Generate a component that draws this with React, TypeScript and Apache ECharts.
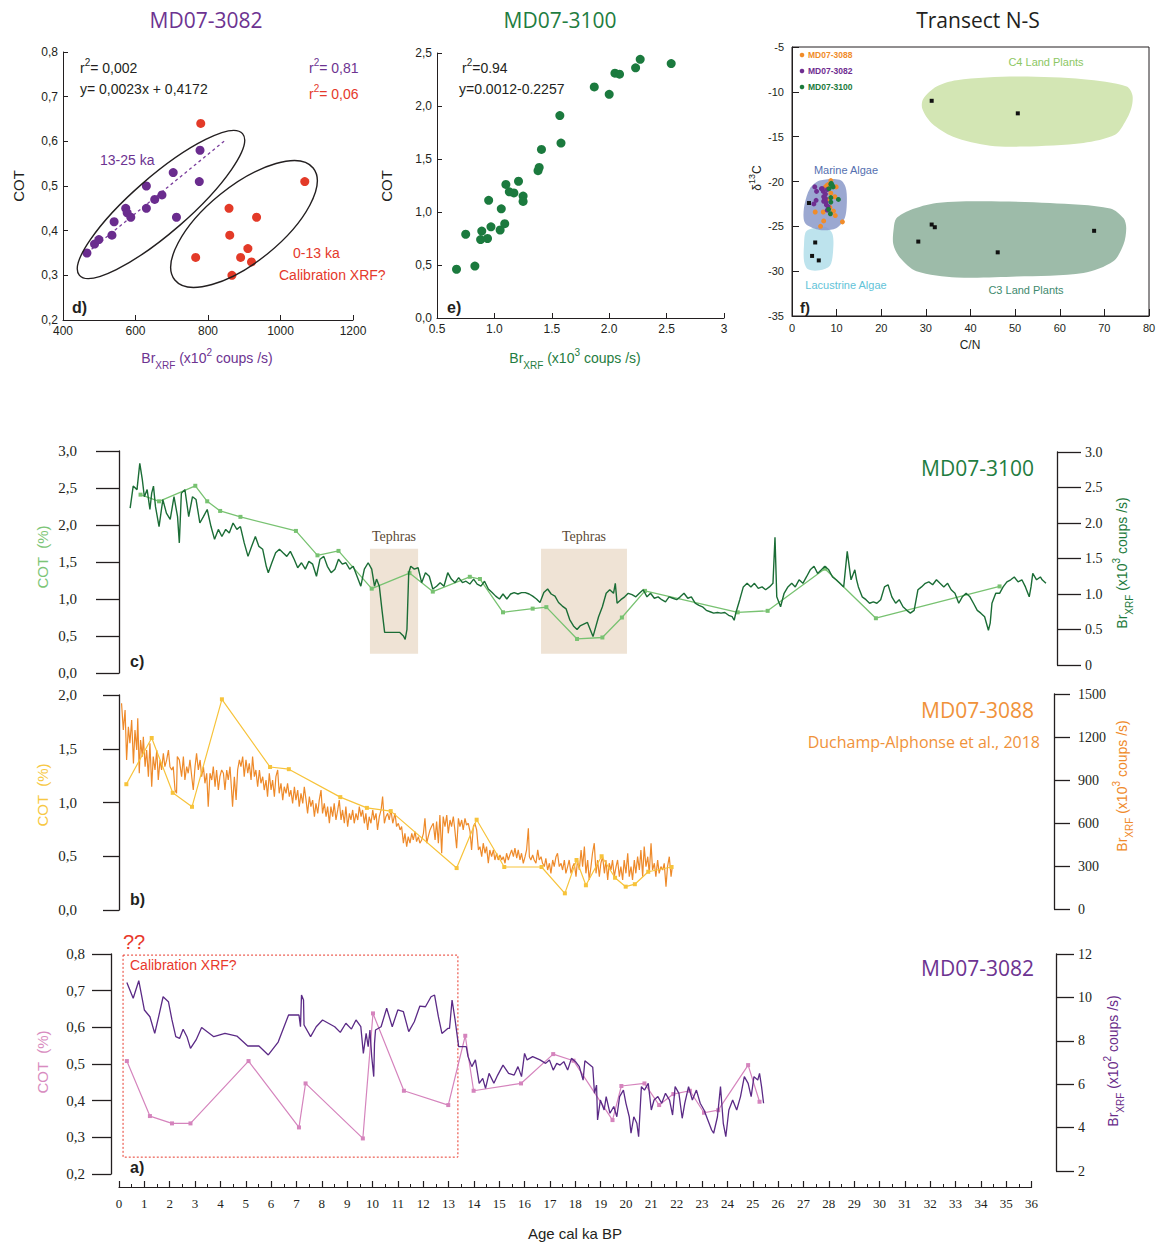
import React, { useEffect, useRef } from "react";
import * as echarts from "echarts";

const SANS = '"Liberation Sans", Arial, sans-serif';
const SERIF = '"Liberation Serif", "Times New Roman", serif';
const TITLE = '"Open Sans", "Noto Sans", sans-serif';
const INK = "#231f20";

// ---------- Panel d : MD07-3082 COT vs Br ----------
const dPurpleBr = [466, 487, 499, 535, 541, 573, 577, 587, 630, 630, 653, 673, 704, 713, 778, 776];
const dPurpleCot = [0.35, 0.37, 0.38, 0.39, 0.42, 0.45, 0.44, 0.43, 0.5, 0.45, 0.47, 0.48, 0.53, 0.43, 0.58, 0.51];
const dRedBr = [780, 766, 858, 860, 866, 890, 910, 920, 934, 1067];
const dRedCot = [0.64, 0.34, 0.45, 0.39, 0.3, 0.34, 0.36, 0.33, 0.43, 0.51];
const dFitBr = [466, 850];
const dFitCot = [0.35, 0.604];

// ---------- Panel e : MD07-3100 COT vs Br ----------
const eBr = [0.67, 0.83, 0.75, 0.88, 0.89, 0.94, 0.95, 0.97, 1.05, 1.06, 1.09, 1.1, 1.13, 1.17, 1.21, 1.25, 1.25, 1.38, 1.39, 1.41, 1.58, 1.57, 1.87, 2.0, 2.05, 2.09, 2.23, 2.27, 2.54];
const eCot = [0.46, 0.49, 0.79, 0.74, 0.82, 0.75, 1.11, 0.86, 0.83, 1.03, 0.89, 1.26, 1.19, 1.18, 1.29, 1.15, 1.1, 1.39, 1.42, 1.59, 1.65, 1.91, 2.18, 2.11, 2.31, 2.3, 2.36, 2.44, 2.4];

// ---------- Panel f : Transect N-S (C/N vs d13C) ----------
const fC4 = [[29.2, -11.9], [29.4, -10.8], [32.4, -9.4], [36.9, -8.7], [50.3, -8.3], [65.3, -8.6], [75.0, -9.4], [76.3, -10.4], [76.0, -11.9], [74.6, -13.4], [72.4, -14.8], [65.3, -15.7], [51.8, -16.1], [44.4, -16.0], [36.1, -15.0], [31.3, -13.5]];
const fC3 = [[22.8, -25.2], [23.4, -24.1], [26.4, -23.2], [32.4, -22.4], [42.9, -22.2], [57.8, -22.4], [71.3, -23.0], [74.3, -24.1], [74.9, -25.2], [74.3, -27.0], [72.0, -28.9], [65.3, -30.2], [50.3, -30.6], [36.9, -30.7], [27.9, -30.0], [24.2, -28.5], [22.7, -27.0]];
const fMarine = [[2.8, -22.6], [4.0, -20.8], [6.2, -19.9], [10.7, -19.8], [12.0, -20.6], [12.3, -22.2], [11.8, -24.1], [9.9, -25.2], [6.2, -25.4], [3.2, -24.8], [2.6, -24.1]];
const fLacustrine = [[3.1, -25.6], [4.7, -25.2], [7.7, -25.1], [9.1, -25.9], [9.2, -27.8], [8.5, -29.4], [6.2, -29.9], [3.6, -29.8], [2.7, -28.9], [2.7, -27.0]];
const fRefCN = [31.3, 50.6, 31.3, 32.0, 28.3, 46.1, 67.7, 3.8, 5.2, 4.5, 6.0];
const fRefD13 = [-11.0, -12.4, -24.8, -25.1, -26.7, -27.9, -25.5, -22.4, -26.8, -28.3, -28.8];
const f3088CN = [8.7, 8.3, 9.9, 7.9, 8.7, 9.6, 5.2, 7.0, 9.3, 9.7, 7.1, 6.4, 11.3, 8.5, 7.9, 7.5];
const f3088D13 = [-19.9, -20.3, -20.6, -20.4, -21.3, -21.7, -23.4, -23.4, -23.3, -23.8, -24.4, -25.0, -24.5, -22.9, -22.0, -20.6];
const f3082CN = [5.1, 5.5, 6.8, 7.0, 7.9, 5.4, 4.9, 7.1, 7.3, 7.6, 7.7, 8.1, 7.1, 6.6, 7.5, 7.9, 7.5];
const f3082D13 = [-20.6, -21.1, -20.8, -21.1, -20.9, -22.1, -22.5, -21.7, -21.9, -22.3, -22.6, -22.8, -22.2, -20.8, -21.4, -23.2, -21.9];
const f3100CN = [8.7, 9.2, 8.3, 8.8, 10.4, 8.7, 8.7, 8.2, 8.6, 9.0];
const f3100D13 = [-20.3, -20.6, -20.8, -20.2, -22.0, -21.8, -22.3, -23.1, -23.6, -20.4];

// ---------- Panel c : MD07-3100 time series ----------
const cBr = [[0.44, 2.21], [0.56, 2.52], [0.71, 2.47], [0.82, 2.84], [0.92, 2.61], [1.0, 2.37], [1.11, 2.47], [1.22, 2.19], [1.29, 2.42], [1.36, 2.52], [1.44, 2.23], [1.58, 1.95], [1.73, 2.33], [1.87, 2.14], [2.02, 2.05], [2.17, 2.37], [2.31, 2.09], [2.38, 1.72], [2.46, 2.42], [2.6, 2.47], [2.75, 2.09], [2.9, 2.37], [3.04, 2.33], [3.19, 2.0], [3.33, 2.09], [3.48, 2.19], [3.63, 1.95], [3.77, 1.77], [3.92, 1.91], [4.06, 1.81], [4.21, 1.91], [4.35, 1.86], [4.5, 2.0], [4.65, 1.91], [4.79, 1.95], [4.94, 1.72], [5.09, 1.53], [5.23, 1.67], [5.38, 1.81], [5.52, 1.67], [5.67, 1.63], [5.81, 1.39], [5.89, 1.3], [6.03, 1.44], [6.18, 1.58], [6.33, 1.63], [6.47, 1.58], [6.62, 1.53], [6.76, 1.6], [6.91, 1.49], [7.05, 1.37], [7.2, 1.44], [7.35, 1.35], [7.49, 1.46], [7.64, 1.42], [7.79, 1.25], [7.93, 1.49], [8.08, 1.53], [8.22, 1.39], [8.37, 1.3], [8.52, 1.35], [8.66, 1.49], [8.81, 1.42], [8.95, 1.44], [9.1, 1.35], [9.24, 1.39], [9.39, 1.25], [9.54, 1.11], [9.68, 1.35], [9.83, 1.44], [9.97, 1.35], [10.08, 1.11], [10.16, 1.21], [10.27, 1.11], [10.37, 0.79], [10.48, 0.46], [10.78, 0.46], [11.07, 0.46], [11.22, 0.41], [11.29, 0.36], [11.36, 0.5], [11.43, 1.3], [11.51, 1.39], [11.65, 1.35], [11.8, 1.37], [11.94, 1.16], [12.09, 1.3], [12.24, 1.25], [12.38, 1.07], [12.53, 1.11], [12.67, 1.16], [12.82, 1.11], [12.97, 1.3], [13.11, 1.21], [13.26, 1.16], [13.4, 1.23], [13.55, 1.16], [13.69, 1.18], [13.84, 1.14], [13.99, 1.21], [14.13, 1.14], [14.28, 1.11], [14.42, 1.18], [14.57, 1.07], [14.72, 1.02], [14.86, 0.97], [15.01, 0.93], [15.15, 1.0], [15.3, 0.93], [15.45, 1.0], [15.59, 1.02], [15.74, 1.0], [15.88, 1.02], [16.03, 1.02], [16.18, 1.0], [16.32, 0.97], [16.47, 0.93], [16.61, 0.88], [16.76, 1.02], [16.91, 1.07], [17.05, 1.0], [17.2, 0.97], [17.34, 0.88], [17.49, 0.83], [17.64, 0.79], [17.78, 0.64], [17.93, 0.55], [18.07, 0.5], [18.19, 0.55], [18.48, 0.6], [18.7, 0.4], [18.92, 0.68], [19.07, 0.82], [19.22, 1.01], [19.36, 1.06], [19.51, 1.01], [19.58, 1.15], [19.65, 0.87], [19.8, 0.92], [19.95, 0.96], [20.09, 1.01], [20.24, 0.99], [20.39, 0.96], [20.53, 1.01], [20.68, 1.06], [20.83, 0.96], [20.97, 1.01], [21.12, 0.94], [21.27, 0.96], [21.41, 0.92], [21.56, 0.89], [21.7, 0.96], [21.85, 0.94], [22.0, 0.92], [22.14, 0.96], [22.29, 1.01], [22.44, 0.94], [22.58, 0.96], [22.73, 0.87], [22.88, 0.84], [23.02, 0.82], [23.17, 0.77], [23.32, 0.75], [23.46, 0.73], [23.61, 0.74], [23.75, 0.73], [23.9, 0.74], [24.05, 0.7], [24.19, 0.68], [24.27, 0.63], [24.34, 0.74], [24.49, 0.92], [24.63, 1.1], [24.78, 1.15], [24.93, 1.1], [25.07, 1.15], [25.22, 1.08], [25.37, 1.1], [25.51, 1.06], [25.66, 1.1], [25.8, 1.15], [25.88, 1.8], [25.95, 0.96], [26.1, 0.82], [26.24, 1.01], [26.39, 1.1], [26.54, 1.15], [26.68, 1.1], [26.83, 1.2], [26.98, 1.15], [27.12, 1.24], [27.27, 1.34], [27.42, 1.39], [27.56, 1.29], [27.71, 1.34], [27.85, 1.39], [28.0, 1.34], [28.15, 1.24], [28.29, 1.2], [28.44, 1.15], [28.59, 1.1], [28.73, 1.6], [28.88, 1.2], [29.03, 1.34], [29.1, 1.2], [29.17, 1.1], [29.32, 0.96], [29.47, 0.92], [29.61, 0.87], [29.76, 0.89], [29.9, 0.87], [30.05, 0.92], [30.2, 1.1], [30.34, 1.13], [30.49, 0.96], [30.64, 0.87], [30.78, 0.92], [30.93, 0.82], [31.08, 0.77], [31.22, 0.73], [31.37, 0.77], [31.52, 1.06], [31.66, 1.1], [31.81, 1.15], [31.95, 1.17], [32.1, 1.13], [32.25, 1.2], [32.39, 1.15], [32.54, 1.1], [32.69, 1.15], [32.83, 1.06], [32.98, 1.01], [33.13, 0.87], [33.27, 0.96], [33.42, 1.01], [33.57, 0.96], [33.71, 0.87], [33.86, 0.77], [34.0, 0.73], [34.15, 0.68], [34.3, 0.49], [34.37, 0.59], [34.44, 0.87], [34.59, 1.01], [34.74, 1.01], [34.88, 1.1], [35.03, 1.17], [35.18, 1.2], [35.32, 1.24], [35.47, 1.17], [35.62, 1.2], [35.76, 1.1], [35.91, 0.96], [35.98, 1.1], [36.05, 1.29], [36.2, 1.2], [36.35, 1.24], [36.42, 1.2], [36.57, 1.15]];
const cCot = [[0.85, 2.41], [1.58, 2.32], [3.01, 2.53], [3.48, 2.32], [3.99, 2.19], [4.79, 2.11], [6.98, 1.92], [7.83, 1.59], [8.66, 1.65], [9.97, 1.14], [11.46, 1.35], [12.38, 1.1], [13.84, 1.3], [14.24, 1.27], [15.15, 0.82], [16.32, 0.87], [16.86, 0.89], [18.07, 0.46], [19.07, 0.48], [19.84, 0.75], [20.75, 1.11], [24.41, 0.82], [25.59, 0.84], [27.85, 1.41], [29.86, 0.74], [34.74, 1.17]];
const tephraStart = [9.9, 16.65];
const tephraEnd = [11.8, 20.04];
const tephraCot = [0.26, 1.68];

// ---------- Panel b : MD07-3088 time series ----------
const bBr = [[0.1, 1435], [0.17, 1249], [0.24, 1388], [0.3, 1040], [0.37, 1272], [0.43, 1156], [0.5, 1319], [0.57, 1016], [0.63, 1249], [0.7, 1109], [0.74, 1330], [0.8, 947], [0.85, 1179], [0.92, 1063], [0.96, 1202], [1.03, 993], [1.09, 1109], [1.16, 923], [1.22, 1156], [1.29, 853], [1.35, 1063], [1.42, 970], [1.49, 1109], [1.55, 900], [1.62, 1040], [1.68, 970], [1.75, 1086], [1.81, 993], [1.88, 1040], [1.95, 1109], [2.01, 993], [2.08, 970], [2.14, 993], [2.21, 830], [2.27, 807], [2.3, 1063], [2.38, 1040], [2.47, 923], [2.54, 1063], [2.6, 900], [2.67, 993], [2.73, 947], [2.8, 1040], [2.87, 923], [2.93, 830], [3.0, 993], [3.06, 1086], [3.13, 970], [3.2, 1040], [3.26, 923], [3.33, 993], [3.39, 877], [3.46, 947], [3.52, 714], [3.59, 947], [3.66, 900], [3.72, 993], [3.79, 853], [3.85, 970], [3.92, 830], [3.98, 923], [4.05, 970], [4.12, 947], [4.18, 830], [4.25, 970], [4.31, 900], [4.38, 993], [4.44, 830], [4.48, 714], [4.55, 923], [4.62, 760], [4.68, 970], [4.75, 1040], [4.81, 993], [4.88, 1063], [4.94, 923], [5.01, 1040], [5.08, 947], [5.14, 1016], [5.21, 900], [5.27, 1063], [5.34, 923], [5.4, 970], [5.47, 853], [5.54, 970], [5.6, 877], [5.67, 923], [5.73, 830], [5.8, 900], [5.86, 784], [5.93, 947], [6.0, 830], [6.06, 900], [6.13, 784], [6.19, 923], [6.26, 970], [6.32, 807], [6.39, 877], [6.46, 760], [6.52, 853], [6.59, 807], [6.65, 877], [6.72, 784], [6.78, 830], [6.85, 737], [6.92, 853], [6.98, 760], [7.05, 830], [7.11, 714], [7.18, 807], [7.25, 737], [7.31, 853], [7.38, 760], [7.44, 667], [7.51, 784], [7.57, 714], [7.64, 760], [7.71, 644], [7.77, 737], [7.84, 667], [7.9, 760], [7.97, 830], [8.03, 667], [8.1, 737], [8.17, 644], [8.23, 714], [8.3, 598], [8.36, 714], [8.43, 644], [8.49, 737], [8.56, 621], [8.63, 691], [8.69, 760], [8.76, 621], [8.82, 691], [8.89, 598], [8.95, 714], [9.02, 574], [9.09, 667], [9.15, 621], [9.22, 691], [9.28, 598], [9.35, 667], [9.42, 621], [9.48, 714], [9.55, 644], [9.61, 691], [9.68, 598], [9.74, 667], [9.81, 551], [9.87, 644], [9.94, 598], [10.01, 691], [10.07, 621], [10.14, 667], [10.2, 551], [10.27, 644], [10.34, 691], [10.4, 784], [10.47, 598], [10.53, 644], [10.6, 667], [10.66, 621], [10.73, 691], [10.8, 598], [10.89, 668], [10.95, 575], [11.02, 598], [11.09, 552], [11.15, 575], [11.22, 459], [11.28, 528], [11.35, 435], [11.41, 505], [11.48, 459], [11.55, 528], [11.61, 482], [11.68, 540], [11.74, 470], [11.81, 505], [11.87, 459], [11.94, 482], [12.01, 528], [12.07, 633], [12.14, 459], [12.2, 505], [12.27, 552], [12.33, 575], [12.4, 598], [12.47, 482], [12.53, 610], [12.6, 459], [12.66, 656], [12.73, 389], [12.79, 645], [12.86, 575], [12.93, 656], [12.99, 528], [13.06, 621], [13.12, 575], [13.19, 645], [13.25, 552], [13.32, 424], [13.39, 633], [13.45, 575], [13.52, 621], [13.58, 552], [13.65, 633], [13.71, 586], [13.78, 598], [13.85, 540], [13.91, 412], [13.98, 575], [14.04, 598], [14.11, 552], [14.18, 412], [14.24, 435], [14.31, 365], [14.37, 459], [14.44, 389], [14.5, 435], [14.57, 319], [14.63, 412], [14.7, 365], [14.77, 412], [14.83, 342], [14.9, 389], [14.96, 342], [15.03, 377], [15.1, 342], [15.16, 365], [15.23, 319], [15.29, 389], [15.36, 342], [15.42, 377], [15.49, 412], [15.56, 365], [15.62, 424], [15.69, 354], [15.75, 412], [15.82, 342], [15.88, 389], [15.95, 319], [16.02, 365], [16.08, 412], [16.15, 563], [16.19, 365], [16.25, 342], [16.32, 377], [16.38, 342], [16.45, 319], [16.52, 412], [16.58, 342], [16.65, 365], [16.71, 319], [16.78, 296], [16.84, 354], [16.91, 272], [16.98, 319], [17.04, 249], [17.11, 342], [17.17, 296], [17.24, 365], [17.3, 389], [17.37, 296], [17.44, 319], [17.5, 272], [17.57, 342], [17.63, 249], [17.7, 296], [17.76, 342], [17.83, 249], [17.9, 296], [17.96, 319], [18.03, 226], [18.09, 342], [18.16, 272], [18.23, 412], [18.29, 296], [18.36, 435], [18.42, 249], [18.49, 342], [18.55, 203], [18.62, 296], [18.68, 389], [18.75, 459], [18.82, 249], [18.88, 342], [18.95, 226], [19.01, 319], [19.08, 365], [19.15, 249], [19.21, 342], [19.28, 203], [19.34, 319], [19.41, 272], [19.47, 342], [19.54, 226], [19.61, 296], [19.67, 342], [19.74, 226], [19.8, 296], [19.87, 203], [19.93, 342], [20.0, 249], [20.07, 389], [20.13, 226], [20.2, 296], [20.26, 203], [20.33, 342], [20.39, 249], [20.46, 365], [20.53, 272], [20.59, 412], [20.66, 226], [20.72, 435], [20.79, 296], [20.86, 365], [20.92, 249], [20.99, 459], [21.05, 272], [21.12, 319], [21.18, 226], [21.25, 342], [21.31, 249], [21.38, 296], [21.45, 272], [21.51, 319], [21.58, 156], [21.64, 296], [21.71, 365], [21.78, 226], [21.83, 296]];
const bCot = [[0.29, 1.17], [1.29, 1.6], [2.12, 1.09], [2.88, 0.96], [4.06, 1.96], [5.96, 1.33], [6.7, 1.31], [8.73, 1.05], [9.78, 0.95], [10.72, 0.92], [13.32, 0.39], [14.11, 0.84], [15.2, 0.4], [16.67, 0.4], [17.59, 0.155], [18.05, 0.465], [18.42, 0.23], [19.04, 0.5], [19.57, 0.3], [19.99, 0.217], [20.35, 0.24], [20.88, 0.356], [21.8, 0.4]];

// ---------- Panel a : MD07-3082 time series ----------
const aBr = [[0.31, 10.69], [0.56, 9.96], [0.78, 10.77], [1.0, 9.42], [1.22, 9.11], [1.41, 8.34], [1.58, 9.19], [1.74, 10.03], [1.95, 9.8], [2.09, 8.96], [2.24, 8.19], [2.39, 8.11], [2.53, 8.53], [2.68, 8.19], [2.82, 7.65], [3.04, 8.04], [3.26, 8.61], [3.74, 8.19], [4.18, 8.34], [4.65, 8.22], [5.08, 7.76], [5.52, 7.76], [5.89, 7.35], [6.28, 7.94], [6.69, 9.19], [7.1, 9.19], [7.16, 8.65], [7.2, 10.11], [7.28, 9.88], [7.3, 8.73], [7.56, 8.19], [7.78, 8.65], [8.03, 8.96], [8.51, 8.65], [8.73, 8.39], [8.95, 8.81], [9.17, 8.54], [9.35, 8.96], [9.54, 8.65], [9.64, 7.42], [9.75, 8.34], [9.83, 7.73], [9.9, 8.5], [9.97, 7.27], [10.05, 6.35], [10.08, 7.88], [10.12, 8.5], [10.34, 8.65], [10.56, 9.5], [10.78, 8.65], [11.0, 9.42], [11.22, 9.34], [11.43, 8.42], [11.65, 8.88], [11.87, 9.6], [12.09, 9.57], [12.31, 10.03], [12.45, 10.11], [12.6, 9.11], [12.74, 8.34], [12.97, 8.57], [13.04, 8.57], [13.14, 9.88], [13.26, 8.96], [13.4, 7.73], [13.7, 7.73], [13.77, 7.27], [13.92, 6.81], [14.06, 7.12], [14.21, 6.04], [14.35, 6.27], [14.46, 5.81], [14.6, 6.5], [14.79, 6.04], [14.94, 6.42], [15.15, 6.88], [15.37, 6.5], [15.59, 6.42], [15.74, 6.81], [15.88, 6.35], [16.0, 7.42], [16.1, 7.12], [16.32, 7.27], [16.61, 7.12], [16.83, 6.96], [16.98, 7.12], [17.13, 6.65], [17.27, 6.96], [17.4, 6.88], [17.55, 7.04], [17.7, 6.65], [17.85, 7.19], [18.01, 7.04], [18.16, 6.81], [18.31, 6.19], [18.38, 7.08], [18.69, 6.78], [18.76, 5.58], [18.84, 5.96], [18.88, 4.35], [18.99, 5.27], [19.14, 4.81], [19.22, 5.43], [19.37, 4.66], [19.52, 4.97], [19.64, 4.5], [19.75, 5.43], [19.9, 5.73], [20.0, 5.12], [20.13, 4.5], [20.2, 3.74], [20.31, 4.5], [20.43, 4.2], [20.5, 3.58], [20.61, 5.89], [20.73, 5.73], [20.88, 6.04], [21.0, 4.81], [21.11, 5.27], [21.26, 5.43], [21.41, 5.12], [21.56, 5.58], [21.72, 5.27], [21.84, 4.58], [21.94, 5.89], [22.09, 5.58], [22.22, 4.43], [22.32, 5.12], [22.47, 5.89], [22.62, 5.27], [22.78, 5.73], [22.93, 5.12], [23.08, 4.81], [23.23, 4.35], [23.38, 3.89], [23.46, 3.74], [23.61, 4.5], [23.73, 5.89], [23.84, 4.2], [23.94, 3.58], [24.06, 4.81], [24.21, 5.27], [24.37, 4.81], [24.52, 5.43], [24.67, 6.35], [24.82, 6.04], [24.94, 5.43], [25.05, 6.35], [25.2, 6.19], [25.27, 6.5], [25.35, 5.89], [25.43, 5.12]];
const aCot = [[0.31, 0.508], [1.22, 0.358], [2.09, 0.338], [2.82, 0.338], [5.11, 0.508], [7.1, 0.327], [7.36, 0.447], [9.62, 0.297], [10.02, 0.638], [11.24, 0.427], [12.99, 0.388], [13.66, 0.577], [13.99, 0.427], [15.86, 0.447], [17.13, 0.527], [17.93, 0.509], [19.47, 0.347], [19.82, 0.44], [20.73, 0.447], [21.31, 0.388], [21.87, 0.418], [22.52, 0.427], [23.08, 0.367], [23.64, 0.374], [24.82, 0.497], [25.27, 0.397]];
const calibAge = [0.16, 13.37];
const calibCot = [0.246, 0.797];

// ---------- shared age axis ----------
const AGE_MAX = 36;
const AGE_DATA_MAX = 36.69;

// ---------- helpers ----------
let measureCtx: any = null;
function measure(text: string, size: number, family: string, weight = "normal") {
  if (!measureCtx) measureCtx = document.createElement("canvas").getContext("2d");
  measureCtx.font = `${weight} ${size}px ${family}`;
  return measureCtx.measureText(text).width;
}

function txt(x: number, y: number, text: string, o: any = {}) {
  const align = o.align || "left";
  return {
    type: "text",
    x,
    y,
    z: 100,
    rotation: o.rotation || 0,
    style: {
      text,
      fill: o.color || INK,
      fontSize: o.size || 14,
      fontFamily: o.family || SANS,
      fontWeight: o.weight || "normal",
      align,
      textAlign: align,
      verticalAlign: "middle",
      textVerticalAlign: "middle",
    },
  };
}

function seqText(x: number, y: number, parts: any[], o: any = {}) {
  const widths = parts.map((p) => measure(p.text, p.size, p.family || SANS, p.weight || "normal"));
  const total = widths.reduce((a, b) => a + b, 0);
  let cur = o.align === "center" ? -total / 2 : o.align === "right" ? -total : 0;
  const children = parts.map((p, i) => {
    const el = txt(cur, p.dy || 0, p.text, { color: p.color, size: p.size, family: p.family, weight: p.weight });
    cur += widths[i];
    return el;
  });
  return { type: "group", x, y, rotation: o.rotation || 0, z: 100, children };
}

function brLabel(x: number, y: number, color: string, exp: string, rotation = 0) {
  return seqText(
    x,
    y,
    [
      { text: "Br", size: 14, color },
      { text: "XRF", size: 10, color, dy: 7 },
      { text: " (x10", size: 14, color },
      { text: exp, size: 10, color, dy: -6 },
      { text: " coups /s)", size: 14, color },
    ],
    { align: "center", rotation }
  );
}

function r2(x: number, y: number, rest: string, color: string) {
  return seqText(x, y, [
    { text: "r", size: 14, color },
    { text: "2", size: 10, color, dy: -6 },
    { text: rest, size: 14, color },
  ]);
}

const comma1 = (v: number) => v.toFixed(1).replace(".", ",");

function scatterAxis(gridIndex: number, min: number, max: number, interval: number, fmt: any, extra: any = {}) {
  return {
    type: "value",
    gridIndex,
    min,
    max,
    interval,
    axisLine: { show: true, onZero: false, lineStyle: { color: INK, width: 1 } },
    axisTick: { show: true, inside: true, length: extra.tick || 5, lineStyle: { color: INK } },
    axisLabel: { show: true, color: INK, fontSize: extra.fontSize || 12, fontFamily: SANS, margin: extra.margin || 5, formatter: fmt },
    splitLine: { show: false },
  };
}

function tsY(gridIndex: number, position: string, min: number, max: number, interval: number, offset: number, tickLen: number, margin: number, fmt: any, fontSize: number) {
  return {
    type: "value",
    gridIndex,
    position,
    min,
    max,
    interval,
    offset,
    axisLine: { show: true, onZero: false, lineStyle: { color: INK, width: 1.3 } },
    axisTick: { show: true, inside: false, length: tickLen, lineStyle: { color: INK, width: 1.3 } },
    axisLabel: { show: true, margin, color: INK, fontFamily: SERIF, fontSize, formatter: fmt },
    splitLine: { show: false },
  };
}

function hiddenAgeX(gridIndex: number) {
  return { type: "value", gridIndex, min: 0, max: AGE_DATA_MAX, show: false };
}

function polySeries(points: number[][], fill: string) {
  return {
    type: "custom",
    xAxisIndex: 2,
    yAxisIndex: 2,
    silent: true,
    z: 1,
    data: [points[0]],
    renderItem: (_p: any, api: any) => ({
      type: "polygon",
      shape: { points: points.map((pt) => api.coord(pt)), smooth: 0.3 },
      style: { fill, stroke: "none" },
    }),
  };
}

const zip = (xs: number[], ys: number[]) => xs.map((x, i) => [x, ys[i]]);

function buildOption() {
  const PURPLE_T = "#6d3391";
  const GREEN_T = "#1f7d41";
  const ORANGE_T = "#f0923a";

  const grids = [
    { left: 63, top: 52, width: 290, height: 268 }, // d
    { left: 437, top: 53, width: 287, height: 265 }, // e
    { left: 792, top: 47, width: 357, height: 269, show: true, borderColor: INK, borderWidth: 1, backgroundColor: "transparent" }, // f
    { left: 119, top: 451, width: 930, height: 222 }, // c COT
    { left: 119, top: 452, width: 930, height: 213 }, // c Br
    { left: 119, top: 695, width: 930, height: 215 }, // b COT
    { left: 119, top: 694, width: 930, height: 215 }, // b Br
    { left: 119, top: 954, width: 930, height: 220 }, // a COT
    { left: 119, top: 954, width: 930, height: 217 }, // a Br
    { left: 119, top: 1100, width: 912.6, height: 87 }, // age axis
  ];

  const xAxes = [
    scatterAxis(0, 400, 1200, 200, (v: number) => String(v)),
    scatterAxis(1, 0.5, 3, 0.5, (v: number) => (v === 3 ? "3" : v.toFixed(1))),
    scatterAxis(2, 0, 80, 10, (v: number) => String(v), { tick: 7, fontSize: 11, margin: 6 }),
    hiddenAgeX(3),
    hiddenAgeX(4),
    hiddenAgeX(5),
    hiddenAgeX(6),
    hiddenAgeX(7),
    hiddenAgeX(8),
    {
      type: "value",
      gridIndex: 9,
      min: 0,
      max: AGE_MAX,
      interval: 1,
      axisLine: { show: true, onZero: false, lineStyle: { color: INK, width: 1.2 } },
      axisTick: { show: true, inside: true, length: 6, lineStyle: { color: INK, width: 1.2 } },
      minorTick: { show: true, splitNumber: 2, length: 3, lineStyle: { color: INK, width: 1 } },
      axisLabel: { show: true, color: INK, fontFamily: SERIF, fontSize: 13, margin: 10, formatter: (v: number) => String(v) },
      splitLine: { show: false },
      minorSplitLine: { show: false },
    },
  ];

  const yAxes = [
    scatterAxis(0, 0.2, 0.8, 0.1, comma1),
    scatterAxis(1, 0, 2.5, 0.5, comma1),
    scatterAxis(2, -35, -5, 5, (v: number) => String(v), { tick: 7, fontSize: 11, margin: 8 }),
    tsY(3, "left", 0, 3, 0.5, 0, 23, 42, comma1, 15),
    tsY(4, "right", 0, 3, 0.5, 8, 24, 28, (v: number) => (v === 0 ? "0" : v.toFixed(1)), 14),
    tsY(5, "left", 0, 2, 0.5, 0, 16, 42, comma1, 15),
    tsY(6, "right", 0, 1500, 300, 5, 16, 24, (v: number) => String(v), 14),
    tsY(7, "left", 0.2, 0.8, 0.1, 8, 19, 26, comma1, 15),
    tsY(8, "right", 2, 12, 2, 7, 18, 22, (v: number) => String(v), 14),
    { type: "value", gridIndex: 9, min: 0, max: 1, show: false },
  ];

  const series: any[] = [
    // d
    { type: "scatter", xAxisIndex: 0, yAxisIndex: 0, symbolSize: 9, itemStyle: { color: "#6a2c8e", opacity: 1 }, data: zip(dPurpleBr, dPurpleCot), z: 3 },
    { type: "scatter", xAxisIndex: 0, yAxisIndex: 0, symbolSize: 9, itemStyle: { color: "#e33a28", opacity: 1 }, data: zip(dRedBr, dRedCot), z: 3 },
    { type: "line", xAxisIndex: 0, yAxisIndex: 0, showSymbol: false, lineStyle: { color: "#7a3d9c", width: 1.3, type: [3, 3] }, data: zip(dFitBr, dFitCot), z: 2 },
    // e
    { type: "scatter", xAxisIndex: 1, yAxisIndex: 1, symbolSize: 9, itemStyle: { color: "#1b7a3e", opacity: 1 }, data: zip(eBr, eCot) },
    // f polygons
    polySeries(fC4, "#d3e6b4"),
    polySeries(fC3, "#9dbba9"),
    polySeries(fLacustrine, "#bde3ed"),
    polySeries(fMarine, "rgba(138,153,201,0.85)"),
    { type: "scatter", xAxisIndex: 2, yAxisIndex: 2, symbol: "rect", symbolSize: 4, itemStyle: { color: "#111", opacity: 1 }, data: zip(fRefCN, fRefD13), z: 5 },
    { type: "scatter", xAxisIndex: 2, yAxisIndex: 2, symbolSize: 5, itemStyle: { color: "#f08c2a", opacity: 1 }, data: zip(f3088CN, f3088D13), z: 5 },
    { type: "scatter", xAxisIndex: 2, yAxisIndex: 2, symbolSize: 5, itemStyle: { color: "#6f2e91", opacity: 1 }, data: zip(f3082CN, f3082D13), z: 5 },
    { type: "scatter", xAxisIndex: 2, yAxisIndex: 2, symbolSize: 5, itemStyle: { color: "#1b7a3c", opacity: 1 }, data: zip(f3100CN, f3100D13), z: 6 },
    // c
    {
      type: "line",
      xAxisIndex: 3,
      yAxisIndex: 3,
      symbol: "rect",
      symbolSize: 4,
      showSymbol: true,
      lineStyle: { color: "#78c271", width: 1.3 },
      itemStyle: { color: "#78c271" },
      data: cCot,
      z: 3,
      markArea: {
        silent: true,
        itemStyle: { color: "#efe3d5" },
        label: { show: true, position: "top", distance: 5, color: "#5b4a37", fontFamily: SERIF, fontSize: 14, formatter: "Tephras" },
        data: tephraStart.map((s, i) => [
          { xAxis: s, yAxis: tephraCot[1] },
          { xAxis: tephraEnd[i], yAxis: tephraCot[0] },
        ]),
      },
    },
    { type: "line", xAxisIndex: 4, yAxisIndex: 4, showSymbol: false, lineStyle: { color: "#1b6d36", width: 1.4 }, data: cBr, z: 4 },
    // b
    { type: "line", xAxisIndex: 6, yAxisIndex: 6, showSymbol: false, lineStyle: { color: "#ee8a2a", width: 1.2 }, data: bBr, z: 3 },
    {
      type: "line",
      xAxisIndex: 5,
      yAxisIndex: 5,
      symbol: "rect",
      symbolSize: 4,
      showSymbol: true,
      lineStyle: { color: "#f7c33b", width: 1.2 },
      itemStyle: { color: "#f7c33b" },
      data: bCot,
      z: 4,
    },
    // a
    {
      type: "line",
      xAxisIndex: 7,
      yAxisIndex: 7,
      symbol: "rect",
      symbolSize: 4,
      showSymbol: true,
      lineStyle: { color: "#d584bd", width: 1.2 },
      itemStyle: { color: "#d584bd" },
      data: aCot,
      z: 3,
      markArea: {
        silent: true,
        itemStyle: { color: "rgba(0,0,0,0)", borderColor: "#e8392c", borderWidth: 1, borderType: [2, 2] },
        label: { show: false },
        data: [[{ xAxis: calibAge[0], yAxis: calibCot[1] }, { xAxis: calibAge[1], yAxis: calibCot[0] }]],
      },
    },
    { type: "line", xAxisIndex: 8, yAxisIndex: 8, showSymbol: false, lineStyle: { color: "#5b2a86", width: 1.3 }, data: aBr, z: 4 },
  ];

  const R90 = Math.PI / 2;
  const g: any[] = [
    // titles
    txt(206, 20, "MD07-3082", { color: PURPLE_T, size: 21, family: TITLE, align: "center" }),
    txt(560, 20, "MD07-3100", { color: GREEN_T, size: 21, family: TITLE, align: "center" }),
    txt(978, 20, "Transect N-S", { color: INK, size: 21, family: TITLE, align: "center" }),
    // d annotations
    r2(80, 68, "= 0,002", INK),
    txt(80, 89, "y= 0,0023x + 0,4172", { size: 14 }),
    r2(309, 68, "= 0,81", PURPLE_T),
    r2(309, 94, "= 0,06", "#e5392b"),
    txt(100, 160, "13-25 ka", { color: PURPLE_T, size: 14 }),
    txt(293, 253, "0-13 ka", { color: "#e5392b", size: 14 }),
    txt(279, 275, "Calibration XRF?", { color: "#e5392b", size: 14 }),
    txt(72, 307, "d)", { size: 16, weight: "bold" }),
    { type: "ellipse", x: 161, y: 204.5, rotation: (41 * Math.PI) / 180, z: 100, shape: { cx: 0, cy: 0, rx: 108, ry: 28 }, style: { fill: "none", stroke: INK, lineWidth: 1.4 } },
    { type: "ellipse", x: 244, y: 224, rotation: (39 * Math.PI) / 180, z: 100, shape: { cx: 0, cy: 0, rx: 89, ry: 38 }, style: { fill: "none", stroke: INK, lineWidth: 1.4 } },
    txt(18, 186, "COT", { size: 15, align: "center", rotation: R90 }),
    brLabel(207, 358, PURPLE_T, "2"),
    // e annotations
    r2(462, 68, "=0.94", INK),
    txt(459, 89, "y=0.0012-0.2257", { size: 14 }),
    txt(447, 307, "e)", { size: 16, weight: "bold" }),
    txt(386, 186, "COT", { size: 15, align: "center", rotation: R90 }),
    brLabel(575, 358, GREEN_T, "3"),
    // f annotations
    { type: "circle", x: 802, y: 55, z: 100, shape: { cx: 0, cy: 0, r: 2.3 }, style: { fill: "#f08c2a" } },
    txt(808, 55, "MD07-3088", { color: "#f08c2a", size: 8.5, weight: "bold" }),
    { type: "circle", x: 802, y: 71, z: 100, shape: { cx: 0, cy: 0, r: 2.3 }, style: { fill: "#6f2e91" } },
    txt(808, 71, "MD07-3082", { color: "#6f2e91", size: 8.5, weight: "bold" }),
    { type: "circle", x: 802, y: 87, z: 100, shape: { cx: 0, cy: 0, r: 2.3 }, style: { fill: "#1b7a3c" } },
    txt(808, 87, "MD07-3100", { color: "#1b7a3c", size: 8.5, weight: "bold" }),
    txt(1046, 62, "C4 Land Plants", { color: "#8cc763", size: 11, align: "center" }),
    txt(846, 170, "Marine Algae", { color: "#5470b0", size: 11, align: "center" }),
    txt(846, 285, "Lacustrine Algae", { color: "#62c3d8", size: 11, align: "center" }),
    txt(1026, 290, "C3 Land Plants", { color: "#3e8a6e", size: 11, align: "center" }),
    txt(800, 307, "f)", { size: 15, weight: "bold" }),
    txt(970, 345, "C/N", { size: 12, align: "center" }),
    seqText(
      757,
      178,
      [
        { text: "δ", size: 12, color: INK },
        { text: "13", size: 9, color: INK, dy: -5 },
        { text: "C", size: 12, color: INK },
      ],
      { align: "center", rotation: R90 }
    ),
    // time-series panel labels
    txt(1034, 468, "MD07-3100", { color: GREEN_T, size: 21, family: TITLE, align: "right" }),
    txt(1034, 710, "MD07-3088", { color: ORANGE_T, size: 21, family: TITLE, align: "right" }),
    txt(1040, 742, "Duchamp-Alphonse et al., 2018", { color: ORANGE_T, size: 16, family: TITLE, align: "right" }),
    txt(1034, 968, "MD07-3082", { color: PURPLE_T, size: 21, family: TITLE, align: "right" }),
    txt(130, 661, "c)", { size: 16, weight: "bold" }),
    txt(130, 899, "b)", { size: 16, weight: "bold" }),
    txt(130, 1167, "a)", { size: 16, weight: "bold" }),
    txt(42, 557, "COT  (%)", { color: "#7cc576", size: 15, align: "center", rotation: R90 }),
    txt(42, 795, "COT  (%)", { color: "#f7c843", size: 15, align: "center", rotation: R90 }),
    txt(42, 1062, "COT  (%)", { color: "#d88cc0", size: 15, align: "center", rotation: R90 }),
    brLabel(1122, 563, "#1e7a3c", "3", R90),
    brLabel(1122, 786, "#ef8a2a", "3", R90),
    brLabel(1113, 1061, "#6a2d8a", "2", R90),
    txt(123, 942, "??", { color: "#e8392c", size: 20 }),
    txt(130, 965, "Calibration XRF?", { color: "#e8392c", size: 14 }),
    txt(575, 1233, "Age cal ka BP", { size: 15, align: "center" }),
  ];

  return {
    animation: false,
    backgroundColor: "#ffffff",
    grid: grids,
    xAxis: xAxes,
    yAxis: yAxes,
    series,
    graphic: { elements: g },
  };
}

export default function App() {
  const ref = useRef<HTMLDivElement>(null);
  useEffect(() => {
    if (!ref.current) return;
    const chart = echarts.init(ref.current, null, { renderer: "svg" });
    chart.setOption(buildOption() as any);
    return () => chart.dispose();
  }, []);
  return <div ref={ref} style={{ position: "absolute", left: 0, top: 0, width: 1162, height: 1243, background: "#fff" }} />;
}
